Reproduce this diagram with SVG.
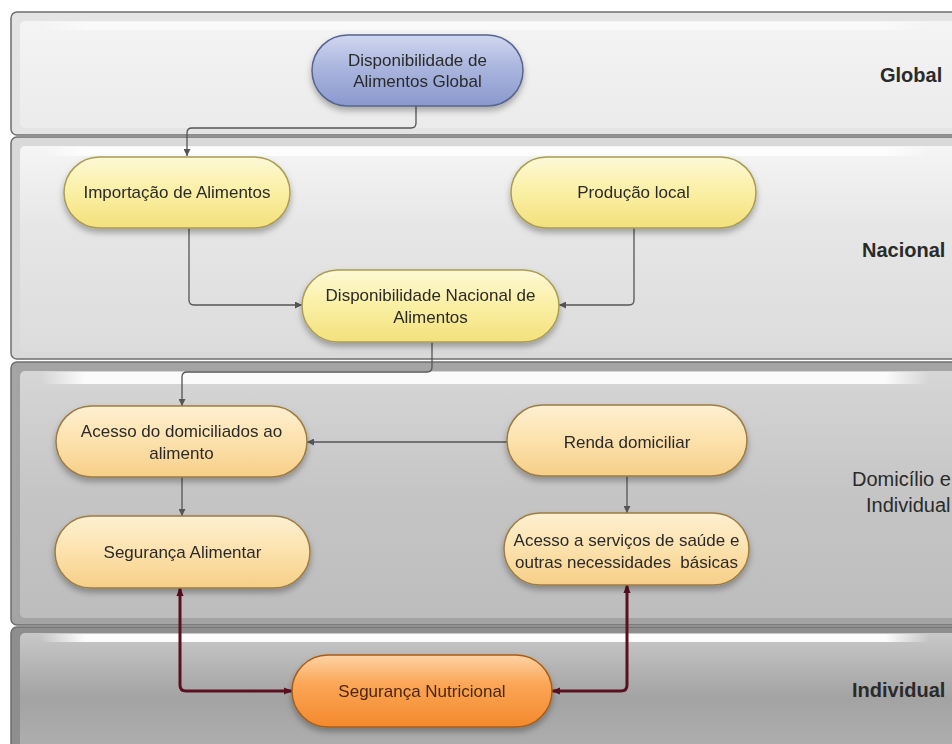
<svg xmlns="http://www.w3.org/2000/svg" width="952" height="744" viewBox="0 0 952 744">
<defs>
<style>
.t{font-family:"Liberation Sans",Arial,sans-serif;font-size:17px;fill:#2a2a2a;text-anchor:middle}
.lb{font-family:"Liberation Sans",Arial,sans-serif;font-size:20px;fill:#2a2a2a}
.b{font-weight:bold}
.c{fill:none;stroke:#555;stroke-width:1.3}
.r{fill:none;stroke:#5a1020;stroke-width:3}
.outer{stroke:#6e6e6e;stroke-width:1.5}
</style>
<linearGradient id="gp1" x1="0" y1="0" x2="0" y2="1"><stop offset="0" stop-color="#f4f4f4"/><stop offset="1" stop-color="#ebebeb"/></linearGradient>
<linearGradient id="gp2" x1="0" y1="0" x2="0" y2="1"><stop offset="0" stop-color="#f5f5f5"/><stop offset="0.4" stop-color="#e6e6e6"/><stop offset="1" stop-color="#dcdcdc"/></linearGradient>
<linearGradient id="gp3" x1="0" y1="0" x2="0" y2="1"><stop offset="0" stop-color="#d6d6d6"/><stop offset="0.5" stop-color="#c5c5c5"/><stop offset="1" stop-color="#bdbdbd"/></linearGradient>
<linearGradient id="gp4" x1="0" y1="0" x2="0" y2="1"><stop offset="0" stop-color="#c8c8c8"/><stop offset="0.5" stop-color="#a3a3a3"/><stop offset="1" stop-color="#b2b2b2"/></linearGradient>
<linearGradient id="hl" x1="0" y1="0" x2="1" y2="0"><stop offset="0" stop-color="#fff" stop-opacity="0"/><stop offset="0.05" stop-color="#fff" stop-opacity="1"/><stop offset="0.95" stop-color="#fff" stop-opacity="1"/><stop offset="1" stop-color="#fff" stop-opacity="0"/></linearGradient>
<linearGradient id="gBlue" x1="0" y1="0" x2="0" y2="1"><stop offset="0" stop-color="#d0d7ef"/><stop offset="0.45" stop-color="#abb6de"/><stop offset="1" stop-color="#8a98cd"/></linearGradient>
<linearGradient id="gYel" x1="0" y1="0" x2="0" y2="1"><stop offset="0" stop-color="#fdf9d6"/><stop offset="0.45" stop-color="#fbf0a8"/><stop offset="1" stop-color="#f3e17c"/></linearGradient>
<linearGradient id="gCre" x1="0" y1="0" x2="0" y2="1"><stop offset="0" stop-color="#fef0d2"/><stop offset="0.45" stop-color="#fde3b0"/><stop offset="1" stop-color="#f6cf88"/></linearGradient>
<linearGradient id="gOr" x1="0" y1="0" x2="0" y2="1"><stop offset="0" stop-color="#fdd3a6"/><stop offset="0.4" stop-color="#fba657"/><stop offset="1" stop-color="#f3892c"/></linearGradient>
<filter id="sh" x="-10%" y="-20%" width="120%" height="150%"><feDropShadow dx="0" dy="4" stdDeviation="3" flood-color="#000" flood-opacity="0.3"/></filter>
<marker id="a" viewBox="0 0 10 10" refX="10" refY="5" markerWidth="7" markerHeight="7" markerUnits="userSpaceOnUse" orient="auto-start-reverse"><path d="M0,0 L10,5 L0,10 z" fill="#555"/></marker>
<marker id="ar" viewBox="0 0 10 10" refX="9" refY="5" markerWidth="9" markerHeight="9" markerUnits="userSpaceOnUse" orient="auto-start-reverse"><path d="M0,1 L10,5 L0,9 z" fill="#5a1020"/></marker>
</defs>
<rect width="952" height="744" fill="#fff"/>
<g id="bands">
<g id="band-global">
<rect class="outer" x="11" y="12" width="960" height="123" rx="6" fill="#e4e4e4"/>
<rect x="20" y="21" width="950" height="107" rx="5" fill="url(#gp1)"/>
<rect x="40" y="22" width="890" height="8" rx="4" fill="url(#hl)" opacity="0.5"/>
</g>
<g id="band-nacional">
<rect class="outer" x="11" y="137" width="960" height="222" rx="6" fill="#d9d9d9"/>
<rect x="20" y="146" width="950" height="206" rx="5" fill="url(#gp2)"/>
<rect x="40" y="147" width="890" height="9" rx="4" fill="url(#hl)" opacity="0.8"/>
</g>
<g id="band-domicilio">
<rect class="outer" x="11" y="362" width="960" height="263" rx="6" fill="#a4a4a4"/>
<rect x="20" y="371" width="950" height="247" rx="5" fill="url(#gp3)"/>
<rect x="40" y="372" width="890" height="12" rx="6" fill="url(#hl)" opacity="0.9"/>
</g>
<g id="band-individual">
<rect class="outer" x="11" y="627" width="960" height="130" rx="6" fill="#8e8e8e"/>
<rect x="20" y="633" width="950" height="130" rx="5" fill="url(#gp4)"/>
<rect x="40" y="634" width="890" height="8" rx="4" fill="url(#hl)" opacity="0.95"/>
</g>
<text class="lb b" x="880" y="82">Global</text>
<text class="lb b" x="862" y="257">Nacional</text>
<text class="lb" x="852" y="486">Domicílio e</text>
<text class="lb" x="866" y="512">Individual</text>
<text class="lb b" x="852" y="697">Individual</text>
</g>
<g id="connectors">
<path class="c" d="M416,106 V123 Q416,128 411,128 H192 Q187,128 187,133 V156" marker-end="url(#a)"/>
<path class="c" d="M189,228 V300 Q189,305 194,305 H302" marker-end="url(#a)"/>
<path class="c" d="M634,228 V300 Q634,305 629,305 H559" marker-end="url(#a)"/>
<path class="c" d="M432,342 V367 Q432,372 427,372 H187 Q182,372 182,377 V406" marker-end="url(#a)"/>
<path class="c" d="M507,442 H307" marker-end="url(#a)"/>
<path class="c" d="M182,477 V516" marker-end="url(#a)"/>
<path class="c" d="M627,476 V513" marker-end="url(#a)"/>
<path class="r" d="M180,588 V685 Q180,691 186,691 H292" marker-start="url(#ar)" marker-end="url(#ar)"/>
<path class="r" d="M627,585 V685 Q627,691 621,691 H552" marker-start="url(#ar)" marker-end="url(#ar)"/>
</g>
<g id="n-global" filter="url(#sh)">
<rect x="312" y="35" width="211" height="71" rx="35.5" fill="url(#gBlue)" stroke="#56648f" stroke-width="1.5"/>
<text class="t" x="417.5" y="66">Disponibilidade de</text>
<text class="t" x="417.5" y="87">Alimentos Global</text>
</g>
<g id="n-importacao" filter="url(#sh)">
<rect x="64" y="157" width="226" height="71" rx="35.5" fill="url(#gYel)" stroke="#a99c55" stroke-width="1.5"/>
<text class="t" x="177" y="198">Importação de Alimentos</text>
</g>
<g id="n-producao" filter="url(#sh)">
<rect x="511" y="157" width="245" height="71" rx="35.5" fill="url(#gYel)" stroke="#a99c55" stroke-width="1.5"/>
<text class="t" x="633.5" y="198">Produção local</text>
</g>
<g id="n-dispnac" filter="url(#sh)">
<rect x="302" y="270" width="257" height="72" rx="36" fill="url(#gYel)" stroke="#a99c55" stroke-width="1.5"/>
<text class="t" x="430.5" y="301">Disponibilidade Nacional de</text>
<text class="t" x="430.5" y="323">Alimentos</text>
</g>
<g id="n-acesso" filter="url(#sh)">
<rect x="56" y="406" width="251" height="71" rx="35.5" fill="url(#gCre)" stroke="#9c7c42" stroke-width="1.5"/>
<text class="t" x="181.5" y="437">Acesso do domiciliados ao</text>
<text class="t" x="181.5" y="459">alimento</text>
</g>
<g id="n-renda" filter="url(#sh)">
<rect x="507" y="405" width="240" height="71" rx="35.5" fill="url(#gCre)" stroke="#9c7c42" stroke-width="1.5"/>
<text class="t" x="627" y="448">Renda domiciliar</text>
</g>
<g id="n-segalim" filter="url(#sh)">
<rect x="55" y="516" width="255" height="72" rx="36" fill="url(#gCre)" stroke="#9c7c42" stroke-width="1.5"/>
<text class="t" x="182.5" y="558">Segurança Alimentar</text>
</g>
<g id="n-servicos" filter="url(#sh)">
<rect x="504" y="513" width="245" height="72" rx="36" fill="url(#gCre)" stroke="#9c7c42" stroke-width="1.5"/>
<text class="t" x="626.5" y="546">Acesso a serviços de saúde e</text>
<text class="t" x="626.5" y="568" style="white-space:pre">outras necessidades  básicas</text>
</g>
<g id="n-segnut" filter="url(#sh)">
<rect x="292" y="655" width="260" height="72" rx="36" fill="url(#gOr)" stroke="#a95c14" stroke-width="1.5"/>
<text class="t" x="422" y="697" style="fill:#4a2810">Segurança Nutricional</text>
</g>
</svg>
